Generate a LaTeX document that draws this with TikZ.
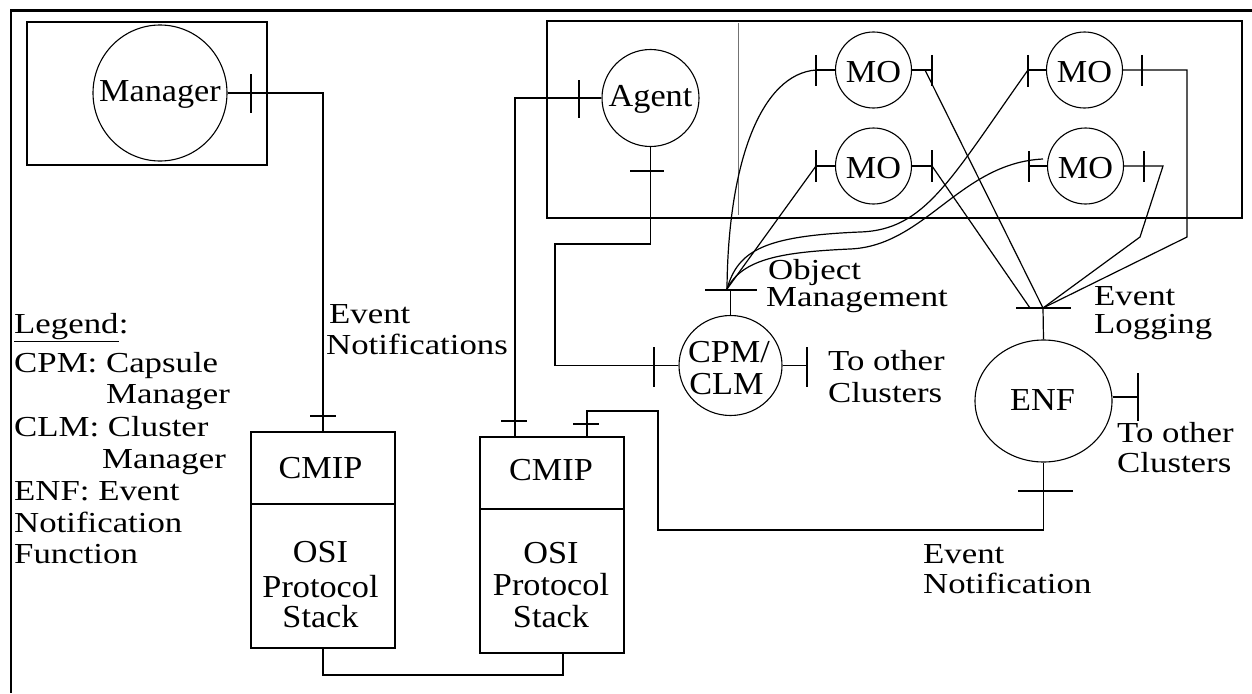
\documentclass[tikz,border=0pt]{standalone}
\usepackage{fontspec}
\setmainfont{Liberation Serif}[FakeStretch=1.2]
\newfontfamily\nodefamily{Liberation Serif}[FakeStretch=1.07]
\usetikzlibrary{shapes.geometric}
\begin{document}
\begin{tikzpicture}[x=1pt,y=-1pt,
  ln/.style={line width=1.2pt},
  ell/.style={draw,ellipse,line width=1.1pt,inner sep=0pt},
  boxr/.style={draw,rectangle,line width=1.2pt,inner sep=0pt},
  lbl/.style={font=\fontsize{29}{31}\selectfont,inner sep=0pt,anchor=base west},
  nlbl/.style={font=\nodefamily\fontsize{32}{34}\selectfont,inner sep=0pt,anchor=base}]
\useasboundingbox (0,0) rectangle (1252,693);
\fill[white] (0,0) rectangle (1252,693);
% frame
\draw[line width=3pt] (10,11) -- (1252,11);
\draw[line width=1.3pt] (11,11) -- (11,693);

% boxes
\node[boxr,minimum width=240pt,minimum height=143pt] (mgrbox) at (147,93.5) {};
\node[boxr,minimum width=695pt,minimum height=197pt] (agbox) at (894.5,119.5) {};
\draw[line width=0.8pt,black!55] (738,23) -- (738,215);
\node[boxr,minimum width=144pt,minimum height=216pt] (box1) at (323,540) {};
\node[boxr,minimum width=144pt,minimum height=216pt] (box2) at (552,545) {};
\draw[ln] (box1.west |- 0,504) -- (box1.east |- 0,504);
\draw[ln] (box2.west |- 0,509) -- (box2.east |- 0,509);

% ellipses
\node[ell,minimum width=134pt,minimum height=136pt] (mgr) at (160,93) {};
\node[ell,minimum width=97pt,minimum height=97pt] (agent) at (650.5,98) {};
\node[ell,minimum width=103pt,minimum height=100pt] (cpm) at (730.5,365.5) {};
\node[ell,minimum width=137pt,minimum height=122pt] (enf) at (1043.5,401) {};
\node[ell,minimum width=76pt,minimum height=76pt] (mo1) at (873.5,70) {};
\node[ell,minimum width=76pt,minimum height=76pt] (mo3) at (873.5,166) {};
\node[ell,minimum width=76pt,minimum height=76pt] (mo2) at (1084.5,70) {};
\node[ell,minimum width=76pt,minimum height=76pt] (mo4) at (1085.5,166) {};

% texts in shapes
\node[nlbl] (mgrT) at (160,101) {Manager};
\node[nlbl] (agT) at (650.5,106) {Agent};
\node[nlbl] (mo1T) at (873.5,82) {MO};
\node[nlbl] (mo3T) at (873.5,178) {MO};
\node[nlbl] (mo2T) at (1084.5,82) {MO};
\node[nlbl] (mo4T) at (1085.5,178) {MO};
\node[nlbl] (cpmT1) at (729,362) {CPM/};
\node[nlbl] (cpmT2) at (726.5,394) {CLM};
\node[nlbl] (enfT) at (1042.5,410) {ENF};
\node[nlbl] (b1a) at (320.5,478) {CMIP};
\node[nlbl] (b1b) at (320.5,562) {OSI};
\node[nlbl] (b1c) at (320.5,597) {Protocol};
\node[nlbl] (b1d) at (320.5,627) {Stack};
\node[nlbl] (b2a) at (551,480) {CMIP};
\node[nlbl] (b2b) at (551,563) {OSI};
\node[nlbl] (b2c) at (551,595) {Protocol};
\node[nlbl] (b2d) at (551,627) {Stack};

% coordinates
\coordinate (a2b) at ([xshift=-37pt]box2.north);
\coordinate (e2b) at ([xshift=35pt]box2.north);
\coordinate (b2s) at ([xshift=11pt]box2.south);
\coordinate (om) at (730.5,290);
\coordinate (omc) at (727,289);
\coordinate (cpmR) at (807,365.5);
\coordinate (mo1L) at (816,70);
\coordinate (mo1R) at (932,70);
\coordinate (mo1Rs) at (925,70);
\coordinate (mo3L) at (816,166);
\coordinate (mo3R) at (932,166);
\coordinate (mo2L) at (1028,70);
\coordinate (mo2R) at (1187,70);
\coordinate (mo4L) at (1029,166);
\coordinate (mo4R) at (1163,166);
\coordinate (mo4c) at (1043,159);
\coordinate (el) at (1043,308);
\coordinate (el2) at (1030,308);
\coordinate (enfR) at (1138,397);

% Manager -> CMIP 1
\draw[ln] (mgr.east) -| (box1.north);
\draw[ln] (251,74) -- (251,113);
\draw[ln] (310,416) -- (336,416);

% Agent -> CMIP 2
\draw[ln] (agent.west) -| (a2b);
\draw[ln] (579,80) -- (579,118);
\draw[ln] (501,421) -- (527,421);

% Agent -> CPM/CLM
\draw[ln] (agent.south) |- (555,244) |- (cpm.west);
\draw[ln] (630,171) -- (664,171);
\draw[ln] (654,347) -- (654,387);

% CPM top and right
\draw[ln] (cpm.north) -- (om);
\draw[ln] (705,290) -- (757,290);
\draw[ln] (cpm.east) -- (cpmR);
\draw[ln] (807,347) -- (807,387);

% MO stubs and ticks
\draw[ln] (mo1.west) -- (mo1L);
\draw[ln] (mo1.east) -- (mo1R);
\draw[ln] (mo3.west) -- (mo3L);
\draw[ln] (mo3.east) -- (mo3R);
\draw[ln] (mo2.west) -- (mo2L);
\draw[ln] (mo4.west) -- (mo4L);
\draw[ln] (816,55) -- (816,86);
\draw[ln] (932,55) -- (932,86);
\draw[ln] (816,150) -- (816,182);
\draw[ln] (932,150) -- (932,182);
\draw[ln] (1028,55) -- (1028,87);
\draw[ln] (1142,55) -- (1142,86);
\draw[ln] (1029,151) -- (1029,182);
\draw[ln] (1144,151) -- (1144,182);

% Object management curves
\draw[ln] (omc) .. controls (728,160) and (762,74) .. (mo1L);
\draw[ln] (omc) -- (mo3L);
\draw[ln] (omc) .. controls (738,250) and (765,236) .. (860,232)
  .. controls (925,230) and (950,180) .. (mo2L);
\draw[ln] (omc) .. controls (742,258) and (785,252) .. (850,249)
  .. controls (925,246) and (960,163) .. (mo4c);

% Event logging lines
\draw[ln] (mo1Rs) -- (el);
\draw[ln] (mo3R) -- (el2);
\draw[ln] (mo4.east) -- (mo4R) -- (1140,237) -- (el);
\draw[ln] (mo2.east) -- (mo2R) -- (1187,237) -- (el);
\draw[ln] (1016,308) -- (1071,308);
\draw[ln] (el) -- (enf.north);

% ENF right
\draw[ln] (enfR -| enf.east) -- (enfR);
\draw[ln] (1138,373) -- (1138,421);

% ENF -> CMIP 2
\draw[ln] (enf.south) -- (1043.5,530) -| (658,411) -| (e2b);
\draw[ln] (1018,491) -- (1073,491);
\draw[ln] (573,424) -- (599,424);

% CMIP1 <-> CMIP2
\draw[ln] (box1.south) |- (563,675) -- (b2s);

% annotation texts
\node[lbl] (en1) at (329,323) {Event};
\node[lbl] (en2) at (326,354) {Notifications};
\node[lbl] (om1) at (768,279) {Object};
\node[lbl] (om2) at (766,306) {Management};
\node[lbl] (oc1) at (828,370) {To other};
\node[lbl] (oc2) at (828,402) {Clusters};
\node[lbl] (el1) at (1094,305) {Event};
\node[lbl] (el3) at (1094,333) {Logging};
\node[lbl] (ec1) at (1117,442) {To other};
\node[lbl] (ec2) at (1117,472) {Clusters};
\node[lbl] (ev1) at (923,563) {Event};
\node[lbl] (ev2) at (923,593) {Notification};

% legend
\node[lbl] (legw) at (14,333) {Legend};
\node[lbl] (legc) at (legw.base east) {:};
\draw[line width=1pt] ([yshift=-8pt]legw.base west) -- ([yshift=-8pt]legw.base east);
\node[lbl] (lg1) at (14,372) {CPM: Capsule};
\node[lbl] (lg2) at (106,403) {Manager};
\node[lbl] (lg3) at (14,436) {CLM: Cluster};
\node[lbl] (lg4) at (102,468) {Manager};
\node[lbl] (lg5) at (14,500) {ENF: Event};
\node[lbl] (lg6) at (14,532) {Notification};
\node[lbl] (lg7) at (14,563) {Function};
\end{tikzpicture}
\end{document}
